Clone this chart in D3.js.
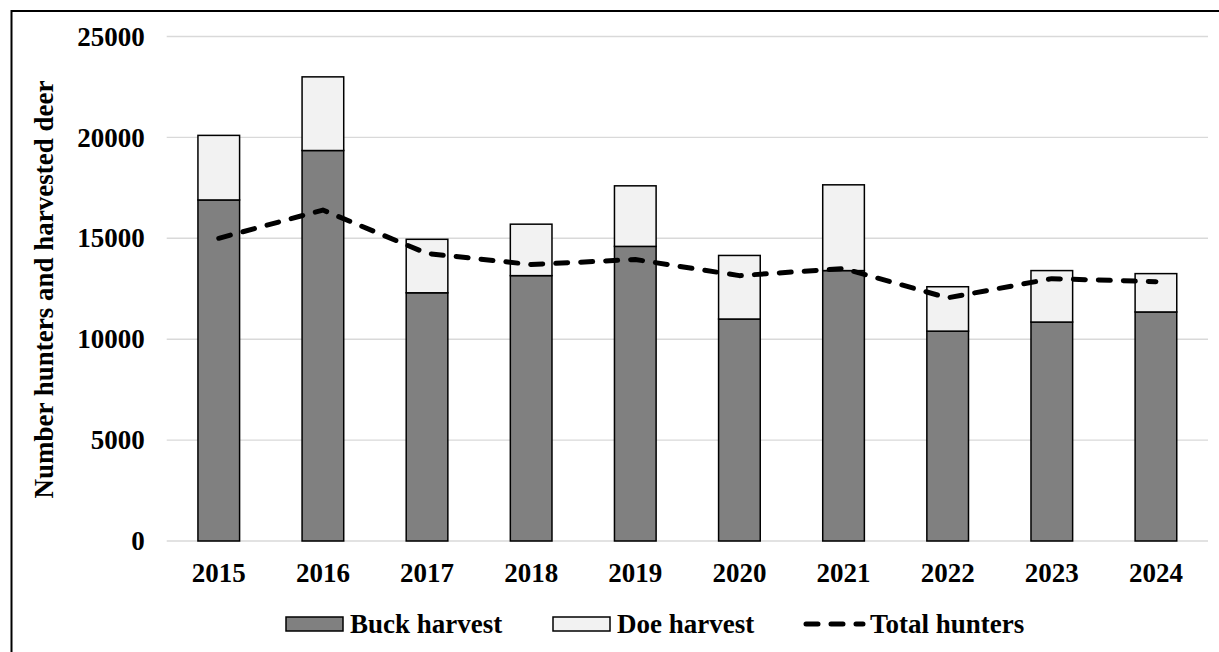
<!DOCTYPE html>
<html>
<head>
<meta charset="utf-8">
<script src="https://cdn.jsdelivr.net/npm/d3@7"></script>
<style>
  body { margin: 0; background: #fff; }
  text { font-family: "Liberation Serif", "Times New Roman", serif; font-weight: bold; fill: #000; }
</style>
</head>
<body>
<div id="chart"></div>
<script>
// chart data
var years = ["2015", "2016", "2017", "2018", "2019", "2020", "2021", "2022", "2023", "2024"];
var buckHarvest = [16900, 19350, 12300, 13150, 14600, 11000, 13400, 10400, 10850, 11350];
var doeHarvest = [3200, 3650, 2650, 2550, 3000, 3150, 4250, 2200, 2550, 1900];
var totalHunters = [15000, 16400, 14250, 13700, 13950, 13150, 13500, 12050, 13000, 12850];
var yTicks = [0, 5000, 10000, 15000, 20000, 25000];

var width = 1219, height = 652;
var margin = {top: 36.5, right: 11, bottom: 111, left: 166.7};
var fontSize = "27px";

var svg = d3.select("#chart").append("svg")
  .attr("width", width)
  .attr("height", height);

// outer frame (cut off on right and bottom)
svg.append("rect")
  .attr("x", 11.5).attr("y", 11)
  .attr("width", width).attr("height", height)
  .attr("fill", "none")
  .attr("stroke", "#000")
  .attr("stroke-width", 2);

var xScale = d3.scaleBand()
  .domain(years)
  .range([margin.left, width - margin.right])
  .paddingInner(0.6)
  .paddingOuter(0.3);

var yScale = d3.scaleLinear()
  .domain([0, 25000])
  .range([height - margin.bottom, margin.top]);

// gridlines
svg.append("g")
  .selectAll("line")
  .data(yTicks)
  .enter().append("line")
  .attr("x1", margin.left)
  .attr("x2", width - margin.right)
  .attr("y1", function(d) { return yScale(d); })
  .attr("y2", function(d) { return yScale(d); })
  .attr("stroke", "#d9d9d9")
  .attr("stroke-width", 1.4);

// y axis labels
var yAxis = svg.append("g")
  .attr("transform", "translate(" + (margin.left - 22) + ",0)")
  .call(d3.axisLeft(yScale).tickValues(yTicks).tickSize(0).tickPadding(0).tickFormat(function(d) { return d; }));
yAxis.select(".domain").remove();
yAxis.selectAll("text")
  .style("font-size", fontSize)
  .style("font-family", "Liberation Serif")
  .style("font-weight", "bold")
  .attr("fill", "#000");

// x axis labels
var xAxis = svg.append("g")
  .attr("transform", "translate(0," + (height - margin.bottom) + ")")
  .call(d3.axisBottom(xScale).tickSize(0).tickPadding(22));
xAxis.select(".domain").remove();
xAxis.selectAll("text")
  .style("font-size", fontSize)
  .style("font-family", "Liberation Serif")
  .style("font-weight", "bold")
  .attr("fill", "#000");

// y title
svg.append("text")
  .attr("transform", "translate(53," + 289.5 + ") rotate(-90)")
  .attr("text-anchor", "middle")
  .style("font-size", fontSize)
  .text("Number hunters and harvested deer");

var rows = years.map(function(y, i) {
  return {year: y, buck: buckHarvest[i], doe: doeHarvest[i], hunters: totalHunters[i]};
});

// buck bars
svg.append("g").selectAll("rect")
  .data(rows)
  .enter().append("rect")
  .attr("x", function(d) { return xScale(d.year); })
  .attr("y", function(d) { return yScale(d.buck); })
  .attr("width", xScale.bandwidth())
  .attr("height", function(d) { return yScale(0) - yScale(d.buck); })
  .attr("fill", "#808080")
  .attr("stroke", "#000")
  .attr("stroke-width", 1.5);

// doe bars on top
svg.append("g").selectAll("rect")
  .data(rows)
  .enter().append("rect")
  .attr("x", function(d) { return xScale(d.year); })
  .attr("y", function(d) { return yScale(d.buck + d.doe); })
  .attr("width", xScale.bandwidth())
  .attr("height", function(d) { return yScale(d.buck) - yScale(d.buck + d.doe); })
  .attr("fill", "#f2f2f2")
  .attr("stroke", "#000")
  .attr("stroke-width", 1.5);

// total hunters line
var line = d3.line()
  .x(function(d) { return xScale(d.year) + xScale.bandwidth() / 2; })
  .y(function(d) { return yScale(d.hunters); });

svg.append("path")
  .datum(rows)
  .attr("d", line)
  .attr("fill", "none")
  .attr("stroke", "#000")
  .attr("stroke-width", 5)
  .attr("stroke-linecap", "round")
  .attr("stroke-linejoin", "round")
  .attr("stroke-dasharray", "12,13");

// legend
var legend = svg.append("g").attr("transform", "translate(0,624)");

legend.append("rect")
  .attr("x", 286).attr("y", -7)
  .attr("width", 57).attr("height", 14)
  .attr("fill", "#808080").attr("stroke", "#000").attr("stroke-width", 1.5);
legend.append("text")
  .attr("x", 350).attr("y", 8.5)
  .style("font-size", fontSize)
  .text("Buck harvest");

legend.append("rect")
  .attr("x", 553).attr("y", -7)
  .attr("width", 57).attr("height", 14)
  .attr("fill", "#f2f2f2").attr("stroke", "#000").attr("stroke-width", 1.5);
legend.append("text")
  .attr("x", 617).attr("y", 8.5)
  .style("font-size", fontSize)
  .text("Doe harvest");

legend.append("line")
  .attr("x1", 806).attr("x2", 863)
  .attr("y1", 0).attr("y2", 0)
  .attr("stroke", "#000")
  .attr("stroke-width", 5)
  .attr("stroke-linecap", "round")
  .attr("stroke-dasharray", "12,13");
legend.append("text")
  .attr("x", 870).attr("y", 8.5)
  .style("font-size", fontSize)
  .text("Total hunters");
</script>
</body>
</html>
